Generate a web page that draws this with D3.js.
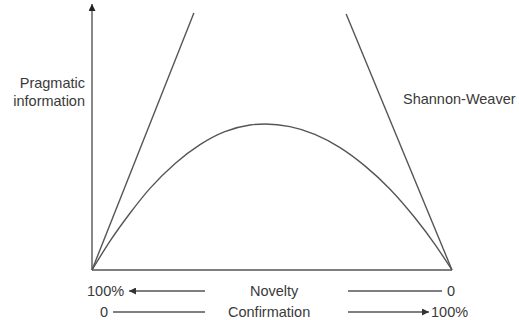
<!DOCTYPE html>
<html>
<head>
<meta charset="utf-8">
<script src="https://cdn.jsdelivr.net/npm/d3@7"></script>
<style>
  body { margin: 0; background: #fff; }
  text { font-family: "Liberation Sans", Arial, sans-serif; font-size: 14.5px; fill: #3a3a3a; }
  .ln { fill: none; stroke: #555; stroke-width: 1.4; }
</style>
</head>
<body>
<svg id="chart"></svg>
<script>
// t: 0 = 100% novelty / 0 confirmation, 1 = 0 novelty / 100% confirmation
const curveT   = [0, 0.05, 0.106, 0.161, 0.231, 0.3, 0.369, 0.439, 0.481, 0.55, 0.619, 0.689, 0.758, 0.828, 0.897, 0.953, 1];
const curveVal = [0, 0.109, 0.215, 0.308, 0.402, 0.473, 0.522, 0.547, 0.551, 0.541, 0.512, 0.462, 0.393, 0.305, 0.197, 0.096, 0];
const swLeft   = [[0, 0], [0.283, 0.97]];
const swRight  = [[1, 0], [0.706, 0.966]];
const yLabel   = ['Pragmatic', 'information'];
const swLabel  = 'Shannon-Weaver';

const W = 519, H = 320;
const svg = d3.select('#chart').attr('width', W).attr('height', H);

const x = d3.scaleLinear().domain([0, 1]).range([92, 452]);
const y = d3.scaleLinear().domain([0, 1]).range([270, 5]);

const defs = svg.append('defs');
defs.append('marker').attr('id', 'ah').attr('viewBox', '0 0 10 10')
  .attr('refX', 10).attr('refY', 5).attr('markerWidth', 12).attr('markerHeight', 7)
  .attr('markerUnits', 'userSpaceOnUse').attr('orient', 'auto')
  .append('path').attr('d', 'M0,0 L10,5 L0,10 Z').attr('fill', '#333');
defs.append('marker').attr('id', 'ahY').attr('viewBox', '0 0 10 10')
  .attr('refX', 10).attr('refY', 5).attr('markerWidth', 15).attr('markerHeight', 7)
  .attr('markerUnits', 'userSpaceOnUse').attr('orient', 'auto')
  .append('path').attr('d', 'M0,0 L10,5 L0,10 Z').attr('fill', '#222');

// axes
svg.append('line').attr('class', 'ln').attr('x1', x(0)).attr('y1', y(0))
  .attr('x2', x(0)).attr('y2', y(1) - 1).attr('marker-end', 'url(#ahY)');
svg.append('line').attr('class', 'ln').attr('stroke-width', 1.8)
  .attr('x1', x(0)).attr('y1', y(0)).attr('x2', x(1)).attr('y2', y(0));

// Shannon-Weaver lines
const lineGen = d3.line().x((d) => x(d[0])).y((d) => y(d[1]));
[swLeft, swRight].forEach((d) => svg.append('path').attr('class', 'ln').attr('d', lineGen(d)));

// pragmatic information curve
const pts = curveT.map((t, i) => [t, curveVal[i]]);
svg.append('path').attr('class', 'ln')
  .attr('d', d3.line().x((d) => x(d[0])).y((d) => y(d[1])).curve(d3.curveMonotoneX)(pts));

// labels
svg.append('text').attr('x', 85).attr('y', 88).attr('text-anchor', 'end').text(yLabel[0]);
svg.append('text').attr('x', 85).attr('y', 106).attr('text-anchor', 'end').text(yLabel[1]);
svg.append('text').attr('x', 403).attr('y', 104).text(swLabel);

// bottom scales
const r1 = 291, r2 = 312;
svg.append('text').attr('x', 87).attr('y', r1 + 5).text('100%');
svg.append('line').attr('class', 'ln').attr('x1', 205).attr('y1', r1).attr('x2', 129).attr('y2', r1)
  .attr('marker-end', 'url(#ah)');
svg.append('text').attr('x', 250).attr('y', r1 + 5).text('Novelty');
svg.append('line').attr('class', 'ln').attr('x1', 348).attr('y1', r1).attr('x2', 442).attr('y2', r1);
svg.append('text').attr('x', 447).attr('y', r1 + 5).text('0');

svg.append('text').attr('x', 100).attr('y', r2 + 4.5).text('0');
svg.append('line').attr('class', 'ln').attr('x1', 113).attr('y1', r2).attr('x2', 205).attr('y2', r2);
svg.append('text').attr('x', 228).attr('y', r2 + 4.5).text('Confirmation');
svg.append('line').attr('class', 'ln').attr('x1', 348).attr('y1', r2).attr('x2', 429).attr('y2', r2)
  .attr('marker-end', 'url(#ah)');
svg.append('text').attr('x', 431).attr('y', r2 + 4.5).text('100%');
</script>
</body>
</html>
